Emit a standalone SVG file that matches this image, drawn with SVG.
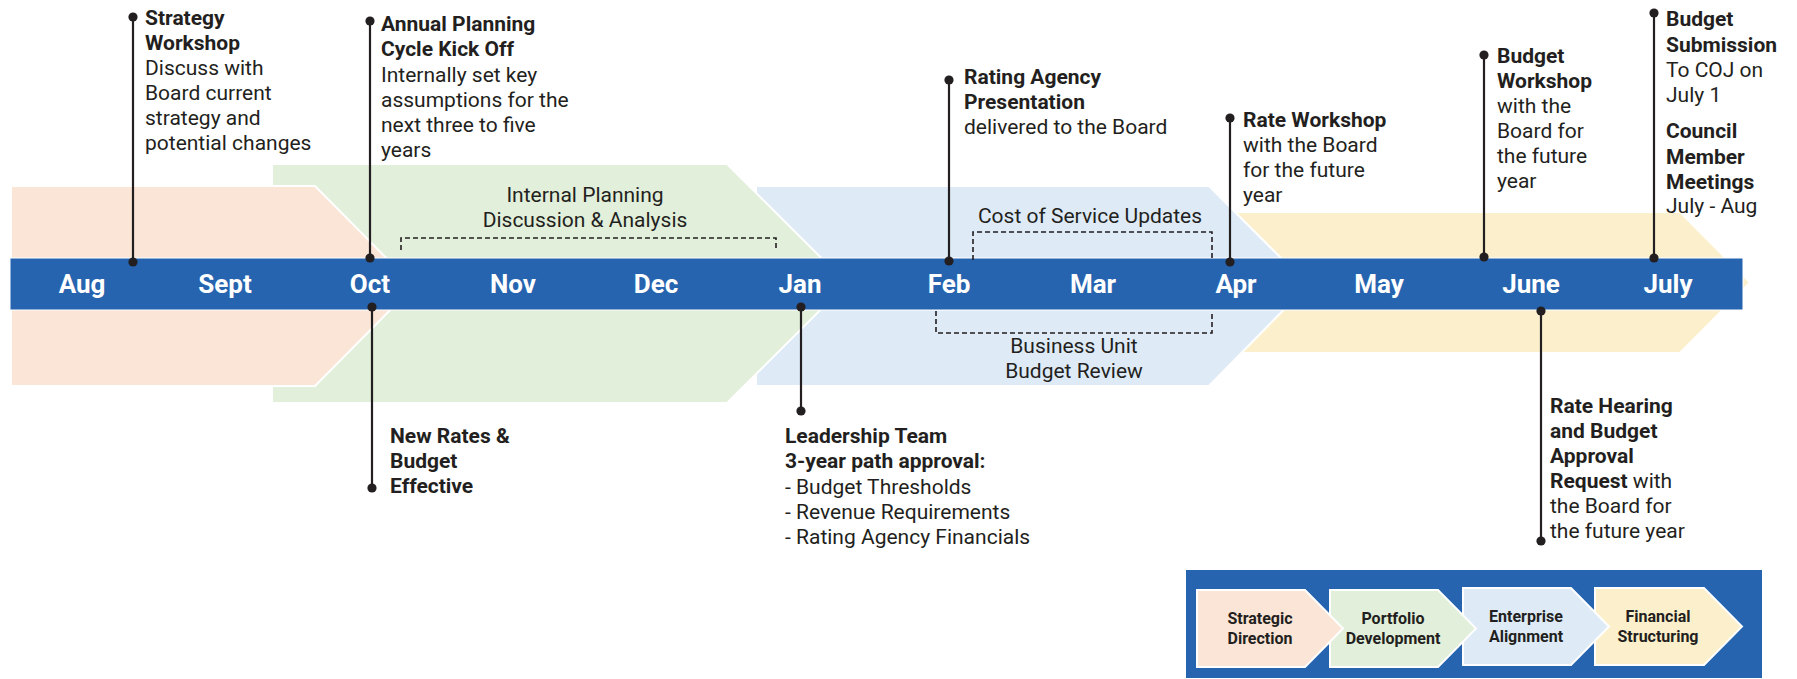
<svg xmlns="http://www.w3.org/2000/svg" width="1797" height="679" viewBox="0 0 1797 679">
  <defs>
    <marker id="dot" viewBox="-5 -5 10 10" markerWidth="10" markerHeight="10" markerUnits="userSpaceOnUse" refX="0" refY="0">
      <circle r="4.6" fill="#231F20"/>
    </marker>
    <style>
      text { font-family: Roboto, "Liberation Sans", sans-serif; fill: #231F20; }
      .month { font-size: 26px; font-weight: 700; fill: #fff; text-anchor: middle; }
      .t { font-size: 21px; font-weight: 700; }
      .d { font-size: 21px; font-weight: 400; }
      .c { font-size: 21px; font-weight: 400; text-anchor: middle; }
      .lg { font-size: 16px; font-weight: 700; text-anchor: middle; }
      .band { stroke: #fff; stroke-width: 2; stroke-linejoin: miter; }
      .peach { fill: #FBE5D6; }
      .green { fill: #E2EFDA; }
      .blue { fill: #DEEBF7; }
      .yellow { fill: #FCF0CC; }
      .link { stroke: #231F20; stroke-width: 2.2; fill: none; marker-start: url(#dot); marker-end: url(#dot); }
      .bracket { stroke: #231F20; stroke-width: 1.6; fill: none; stroke-dasharray: 5 3; }
    </style>
  </defs>

  <!-- phase bands, back to front -->
  <g id="phase-bands">
    <polygon class="band yellow" points="1230,212 1680,212 1750,282.5 1680,353 1230,353"/>
    <polygon class="band blue" points="756,186 1209,186 1308,285 1209,386 756,386"/>
    <polygon class="band green" points="272,164 727,164 847,283.5 727,403 272,403"/>
    <polygon class="band peach" points="11,186 315,186 414,286 315,386 11,386"/>
  </g>

  <!-- month bar -->
  <g id="timeline">
    <rect x="10" y="258" width="1733" height="52" fill="#2664B0" stroke="#fff" stroke-width="1"/>
    <text class="month" x="82" y="293">Aug</text>
    <text class="month" x="225" y="293">Sept</text>
    <text class="month" x="370" y="293">Oct</text>
    <text class="month" x="513" y="293">Nov</text>
    <text class="month" x="656" y="293">Dec</text>
    <text class="month" x="800" y="293">Jan</text>
    <text class="month" x="949" y="293">Feb</text>
    <text class="month" x="1093" y="293">Mar</text>
    <text class="month" x="1236" y="293">Apr</text>
    <text class="month" x="1379" y="293">May</text>
    <text class="month" x="1531" y="293">June</text>
    <text class="month" x="1668" y="293">July</text>
  </g>

  <!-- span brackets and their labels -->
  <g id="spans">
    <path class="bracket" d="M401,250 V238 H776 V250"/>
    <text class="c" x="585" y="202">Internal Planning</text>
    <text class="c" x="585" y="227">Discussion &amp; Analysis</text>
    <path class="bracket" d="M973,260 V232 H1212 V260"/>
    <text class="c" x="1090" y="223">Cost of Service Updates</text>
    <path class="bracket" d="M936,311 V333 H1212 V311"/>
    <text class="c" x="1074" y="353">Business Unit</text>
    <text class="c" x="1074" y="378">Budget Review</text>
  </g>

  <!-- event leader lines -->
  <g id="connectors">
    <line class="link" x1="133" y1="17" x2="133" y2="262"/>
    <line class="link" x1="370" y1="21" x2="370" y2="258"/>
    <line class="link" x1="372" y1="307" x2="372" y2="488"/>
    <line class="link" x1="801" y1="307" x2="801" y2="411"/>
    <line class="link" x1="949" y1="80" x2="949" y2="261"/>
    <line class="link" x1="1230" y1="118" x2="1230" y2="262"/>
    <line class="link" x1="1484" y1="55" x2="1484" y2="257"/>
    <line class="link" x1="1654" y1="13" x2="1654" y2="258"/>
    <line class="link" x1="1541" y1="311" x2="1541" y2="541"/>
  </g>

  <!-- events -->
  <g id="strategy-workshop">
    <text class="t" x="145" y="25">Strategy</text>
    <text class="t" x="145" y="50">Workshop</text>
    <text class="d" x="145" y="75">Discuss with</text>
    <text class="d" x="145" y="100">Board current</text>
    <text class="d" x="145" y="125">strategy and</text>
    <text class="d" x="145" y="150">potential changes</text>
  </g>
  <g id="annual-planning">
    <text class="t" x="381" y="31">Annual Planning</text>
    <text class="t" x="381" y="56">Cycle Kick Off</text>
    <text class="d" x="381" y="82">Internally set key</text>
    <text class="d" x="381" y="107">assumptions for the</text>
    <text class="d" x="381" y="132">next three to five</text>
    <text class="d" x="381" y="157">years</text>
  </g>
  <g id="new-rates">
    <text class="t" x="390" y="443">New Rates &amp;</text>
    <text class="t" x="390" y="468">Budget</text>
    <text class="t" x="390" y="493">Effective</text>
  </g>
  <g id="leadership-team">
    <text class="t" x="785" y="443">Leadership Team</text>
    <text class="t" x="785" y="468">3-year path approval:</text>
    <text class="d" x="785" y="494">- Budget Thresholds</text>
    <text class="d" x="785" y="519">- Revenue Requirements</text>
    <text class="d" x="785" y="544">- Rating Agency Financials</text>
  </g>
  <g id="rating-agency">
    <text class="t" x="964" y="84">Rating Agency</text>
    <text class="t" x="964" y="109">Presentation</text>
    <text class="d" x="964" y="134">delivered to the Board</text>
  </g>
  <g id="rate-workshop">
    <text class="t" x="1243" y="127">Rate Workshop</text>
    <text class="d" x="1243" y="152">with the Board</text>
    <text class="d" x="1243" y="177">for the future</text>
    <text class="d" x="1243" y="202">year</text>
  </g>
  <g id="budget-workshop">
    <text class="t" x="1497" y="63">Budget</text>
    <text class="t" x="1497" y="88">Workshop</text>
    <text class="d" x="1497" y="113">with the</text>
    <text class="d" x="1497" y="138">Board for</text>
    <text class="d" x="1497" y="163">the future</text>
    <text class="d" x="1497" y="188">year</text>
  </g>
  <g id="budget-submission">
    <text class="t" x="1666" y="26">Budget</text>
    <text class="t" x="1666" y="52">Submission</text>
    <text class="d" x="1666" y="77">To COJ on</text>
    <text class="d" x="1666" y="102">July 1</text>
    <text class="t" x="1666" y="138">Council</text>
    <text class="t" x="1666" y="164">Member</text>
    <text class="t" x="1666" y="189">Meetings</text>
    <text class="d" x="1666" y="213">July - Aug</text>
  </g>
  <g id="rate-hearing">
    <text class="t" x="1550" y="413">Rate Hearing</text>
    <text class="t" x="1550" y="438">and Budget</text>
    <text class="t" x="1550" y="463">Approval</text>
    <text class="t" x="1550" y="488">Request<tspan class="d"> with</tspan></text>
    <text class="d" x="1550" y="513">the Board for</text>
    <text class="d" x="1550" y="538">the future year</text>
  </g>

  <!-- legend -->
  <g id="legend">
    <rect x="1186" y="570" width="576" height="108" fill="#2664B0"/>
    <polygon class="band yellow" points="1595,588 1704,588 1742,626.5 1704,665 1595,665"/>
    <polygon class="band blue" points="1463,588 1571,588 1609,626.5 1571,665 1463,665"/>
    <polygon class="band green" points="1330,590 1438,590 1476,628.5 1438,667 1330,667"/>
    <polygon class="band peach" points="1197,590 1305,590 1343,628.5 1305,667 1197,667"/>
    <text class="lg" x="1260" y="624">Strategic</text>
    <text class="lg" x="1260" y="644">Direction</text>
    <text class="lg" x="1393" y="624">Portfolio</text>
    <text class="lg" x="1393" y="644">Development</text>
    <text class="lg" x="1526" y="622">Enterprise</text>
    <text class="lg" x="1526" y="642">Alignment</text>
    <text class="lg" x="1658" y="622">Financial</text>
    <text class="lg" x="1658" y="642">Structuring</text>
  </g>
</svg>
